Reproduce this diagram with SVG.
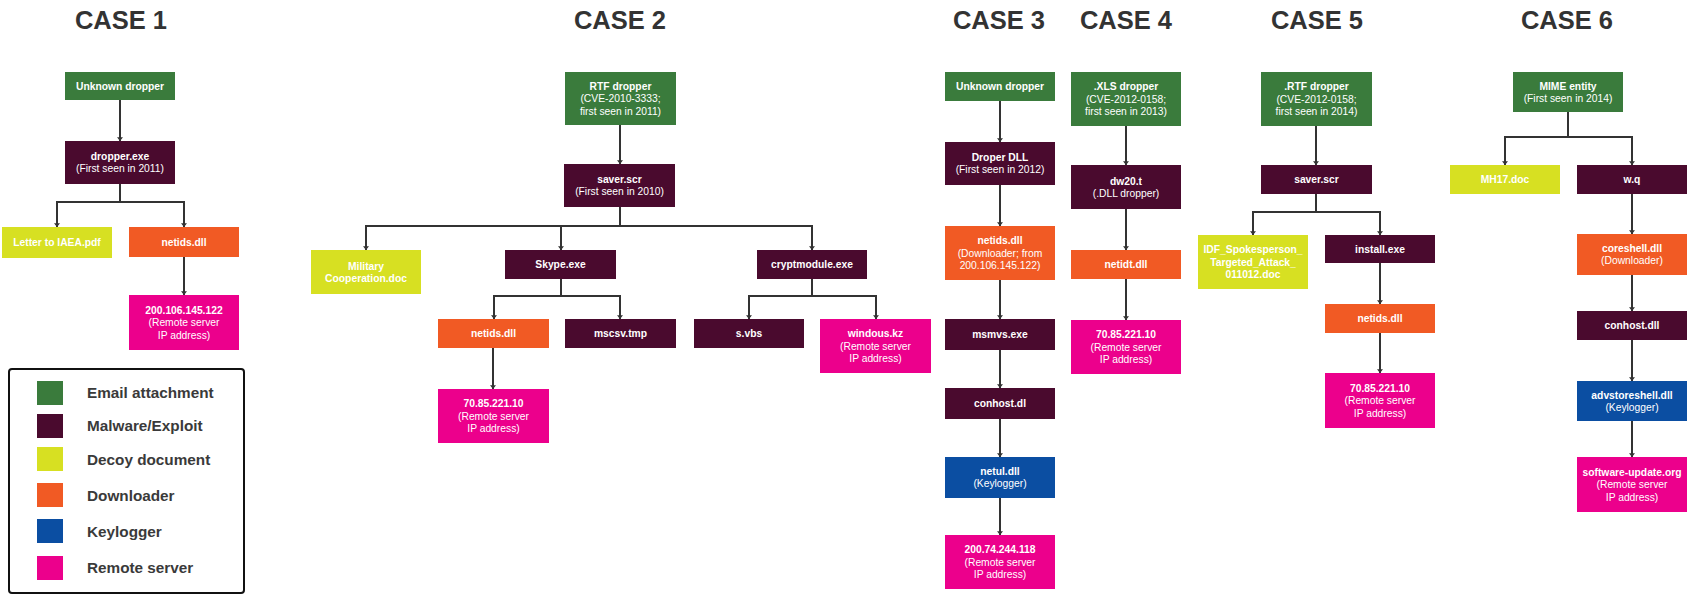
<svg xmlns="http://www.w3.org/2000/svg" width="1690" height="597" viewBox="0 0 1690 597">
<style>
  .bg{fill:#ffffff}
  .title{font-family:"Liberation Sans",Arial,sans-serif;font-size:25.5px;font-weight:bold;fill:#333333;text-anchor:middle}
  .nt{font-family:"Liberation Sans",Arial,sans-serif;font-size:10.3px;fill:#ffffff;text-anchor:middle}
  .b{font-weight:bold}
  .em{fill:#3a7b3c}
  .mw{fill:#4a0a2e}
  .dc{fill:#d7e022}
  .dl{fill:#f15a24}
  .kl{fill:#0b4ea2}
  .rs{fill:#ec008c}
  .conn path{fill:none;stroke:#333333;stroke-width:2;marker-end:url(#arr)}
  .lgbox{fill:#ffffff;stroke:#111111;stroke-width:2}
  .lgt{font-family:"Liberation Sans",Arial,sans-serif;font-size:15.3px;font-weight:bold;fill:#3a3a3a}
</style>
<defs>
  <marker id="arr" markerWidth="8" markerHeight="6" refX="5" refY="4" orient="auto" markerUnits="userSpaceOnUse" viewBox="0 0 5 8">
    <path d="M0,0 L5,4 L0,8 z" fill="#333333"/>
  </marker>
</defs>
<rect class="bg" x="0" y="0" width="1690" height="597"/>

<g id="titles">
  <text class="title" x="121" y="29">CASE 1</text>
  <text class="title" x="620" y="29">CASE 2</text>
  <text class="title" x="999" y="29">CASE 3</text>
  <text class="title" x="1126" y="29">CASE 4</text>
  <text class="title" x="1317" y="29">CASE 5</text>
  <text class="title" x="1567" y="29">CASE 6</text>
</g>

<g id="connectors" class="conn">
  <path d="M120,100 V141"/>
  <path d="M120,184 V202 H57 V227"/>
  <path d="M120,184 V202 H184 V227"/>
  <path d="M184,257 V295"/>

  <path d="M620,125 V164"/>
  <path d="M620,207 V226 H366 V250"/>
  <path d="M620,207 V226 H561 V250"/>
  <path d="M620,207 V226 H812 V250"/>
  <path d="M561,279 V296 H494 V319"/>
  <path d="M561,279 V296 H620 V319"/>
  <path d="M812,279 V296 H749 V319"/>
  <path d="M812,279 V296 H876 V319"/>
  <path d="M493,348 V389"/>

  <path d="M1000,101 V142"/>
  <path d="M1000,185 V226"/>
  <path d="M1000,280 V319"/>
  <path d="M1000,350 V388"/>
  <path d="M1000,419 V457"/>
  <path d="M1000,498 V535"/>

  <path d="M1126,126 V165"/>
  <path d="M1126,209 V250"/>
  <path d="M1126,279 V320"/>

  <path d="M1316,126 V165"/>
  <path d="M1316,194 V212 H1253 V235"/>
  <path d="M1316,194 V212 H1380 V235"/>
  <path d="M1380,263 V304"/>
  <path d="M1380,333 V373"/>

  <path d="M1568,112 V137 H1505 V165"/>
  <path d="M1568,112 V137 H1632 V165"/>
  <path d="M1632,194 V234"/>
  <path d="M1632,275 V311"/>
  <path d="M1632,340 V381"/>
  <path d="M1632,421 V457"/>
</g>

<!-- CASE 1 -->
<g id="c1_dropper"><rect class="em" x="65" y="72" width="110" height="28"/><text class="nt b" x="120" y="89.7">Unknown dropper</text></g>
<g id="c1_exe"><rect class="mw" x="65" y="141" width="110" height="43"/><text class="nt b" x="120" y="160.1">dropper.exe</text><text class="nt" x="120" y="172.4">(First seen in 2011)</text></g>
<g id="c1_letter"><rect class="dc" x="2" y="227" width="110" height="31"/><text class="nt b" x="57" y="246.2">Letter to IAEA.pdf</text></g>
<g id="c1_netids"><rect class="dl" x="129" y="227" width="110" height="30"/><text class="nt b" x="184" y="245.7">netids.dll</text></g>
<g id="c1_ip"><rect class="rs" x="129" y="295" width="110" height="55"/><text class="nt b" x="184" y="313.9">200.106.145.122</text><text class="nt" x="184" y="326.2">(Remote server</text><text class="nt" x="184" y="338.5">IP address)</text></g>

<!-- CASE 2 -->
<g id="c2_rtf"><rect class="em" x="565" y="72" width="111" height="53"/><text class="nt b" x="620.5" y="89.9">RTF dropper</text><text class="nt" x="620.5" y="102.2">(CVE-2010-3333;</text><text class="nt" x="620.5" y="114.5">first seen in 2011)</text></g>
<g id="c2_saver"><rect class="mw" x="564" y="164" width="111" height="43"/><text class="nt b" x="619.5" y="183.1">saver.scr</text><text class="nt" x="619.5" y="195.4">(First seen in 2010)</text></g>
<g id="c2_military"><rect class="dc" x="311" y="250" width="110" height="44"/><text class="nt b" x="366" y="269.6">Military</text><text class="nt b" x="366" y="281.9">Cooperation.doc</text></g>
<g id="c2_skype"><rect class="mw" x="505" y="250" width="111" height="29"/><text class="nt b" x="560.5" y="268.2">Skype.exe</text></g>
<g id="c2_crypt"><rect class="mw" x="757" y="250" width="110" height="29"/><text class="nt b" x="812" y="268.2">cryptmodule.exe</text></g>
<g id="c2_netids"><rect class="dl" x="438" y="319" width="111" height="29"/><text class="nt b" x="493.5" y="337.2">netids.dll</text></g>
<g id="c2_mscsv"><rect class="mw" x="565" y="319" width="111" height="29"/><text class="nt b" x="620.5" y="337.2">mscsv.tmp</text></g>
<g id="c2_svbs"><rect class="mw" x="694" y="319" width="110" height="29"/><text class="nt b" x="749" y="337.2">s.vbs</text></g>
<g id="c2_windous"><rect class="rs" x="820" y="319" width="111" height="54"/><text class="nt b" x="875.5" y="337.4">windous.kz</text><text class="nt" x="875.5" y="349.7">(Remote server</text><text class="nt" x="875.5" y="362">IP address)</text></g>
<g id="c2_ip"><rect class="rs" x="438" y="389" width="111" height="54"/><text class="nt b" x="493.5" y="407.4">70.85.221.10</text><text class="nt" x="493.5" y="419.7">(Remote server</text><text class="nt" x="493.5" y="432">IP address)</text></g>

<!-- CASE 3 -->
<g id="c3_dropper"><rect class="em" x="945" y="72" width="110" height="29"/><text class="nt b" x="1000" y="90.2">Unknown dropper</text></g>
<g id="c3_dll"><rect class="mw" x="945" y="142" width="110" height="43"/><text class="nt b" x="1000" y="161.1">Droper DLL</text><text class="nt" x="1000" y="173.4">(First seen in 2012)</text></g>
<g id="c3_netids"><rect class="dl" x="945" y="226" width="110" height="54"/><text class="nt b" x="1000" y="244.4">netids.dll</text><text class="nt" x="1000" y="256.7">(Downloader; from</text><text class="nt" x="1000" y="269">200.106.145.122)</text></g>
<g id="c3_msmvs"><rect class="mw" x="945" y="319" width="110" height="31"/><text class="nt b" x="1000" y="338.2">msmvs.exe</text></g>
<g id="c3_conhost"><rect class="mw" x="945" y="388" width="110" height="31"/><text class="nt b" x="1000" y="407.2">conhost.dl</text></g>
<g id="c3_netul"><rect class="kl" x="945" y="457" width="110" height="41"/><text class="nt b" x="1000" y="475.1">netul.dll</text><text class="nt" x="1000" y="487.4">(Keylogger)</text></g>
<g id="c3_ip"><rect class="rs" x="945" y="535" width="110" height="54"/><text class="nt b" x="1000" y="553.4">200.74.244.118</text><text class="nt" x="1000" y="565.7">(Remote server</text><text class="nt" x="1000" y="578">IP address)</text></g>

<!-- CASE 4 -->
<g id="c4_xls"><rect class="em" x="1071" y="72" width="110" height="54"/><text class="nt b" x="1126" y="90.4">.XLS dropper</text><text class="nt" x="1126" y="102.7">(CVE-2012-0158;</text><text class="nt" x="1126" y="115">first seen in 2013)</text></g>
<g id="c4_dw20"><rect class="mw" x="1071" y="165" width="110" height="44"/><text class="nt b" x="1126" y="184.6">dw20.t</text><text class="nt" x="1126" y="196.9">(.DLL dropper)</text></g>
<g id="c4_netidt"><rect class="dl" x="1071" y="250" width="110" height="29"/><text class="nt b" x="1126" y="268.2">netidt.dll</text></g>
<g id="c4_ip"><rect class="rs" x="1071" y="320" width="110" height="54"/><text class="nt b" x="1126" y="338.4">70.85.221.10</text><text class="nt" x="1126" y="350.7">(Remote server</text><text class="nt" x="1126" y="363">IP address)</text></g>

<!-- CASE 5 -->
<g id="c5_rtf"><rect class="em" x="1261" y="72" width="111" height="54"/><text class="nt b" x="1316.5" y="90.4">.RTF dropper</text><text class="nt" x="1316.5" y="102.7">(CVE-2012-0158;</text><text class="nt" x="1316.5" y="115">first seen in 2014)</text></g>
<g id="c5_saver"><rect class="mw" x="1261" y="165" width="111" height="29"/><text class="nt b" x="1316.5" y="183.2">saver.scr</text></g>
<g id="c5_idf"><rect class="dc" x="1198" y="235" width="110" height="54"/><text class="nt b" x="1253" y="253.4">IDF_Spokesperson_</text><text class="nt b" x="1253" y="265.7">Targeted_Attack_</text><text class="nt b" x="1253" y="278">011012.doc</text></g>
<g id="c5_install"><rect class="mw" x="1325" y="235" width="110" height="28"/><text class="nt b" x="1380" y="252.7">install.exe</text></g>
<g id="c5_netids"><rect class="dl" x="1325" y="304" width="110" height="29"/><text class="nt b" x="1380" y="322.2">netids.dll</text></g>
<g id="c5_ip"><rect class="rs" x="1325" y="373" width="110" height="55"/><text class="nt b" x="1380" y="391.9">70.85.221.10</text><text class="nt" x="1380" y="404.2">(Remote server</text><text class="nt" x="1380" y="416.5">IP address)</text></g>

<!-- CASE 6 -->
<g id="c6_mime"><rect class="em" x="1513" y="72" width="110" height="40"/><text class="nt b" x="1568" y="89.6">MIME entity</text><text class="nt" x="1568" y="101.9">(First seen in 2014)</text></g>
<g id="c6_mh17"><rect class="dc" x="1450" y="165" width="110" height="29"/><text class="nt b" x="1505" y="183.2">MH17.doc</text></g>
<g id="c6_wq"><rect class="mw" x="1577" y="165" width="110" height="29"/><text class="nt b" x="1632" y="183.2">w.q</text></g>
<g id="c6_coreshell"><rect class="dl" x="1577" y="234" width="110" height="41"/><text class="nt b" x="1632" y="252.1">coreshell.dll</text><text class="nt" x="1632" y="264.4">(Downloader)</text></g>
<g id="c6_conhost"><rect class="mw" x="1577" y="311" width="110" height="29"/><text class="nt b" x="1632" y="329.2">conhost.dll</text></g>
<g id="c6_advstore"><rect class="kl" x="1577" y="381" width="110" height="40"/><text class="nt b" x="1632" y="398.6">advstoreshell.dll</text><text class="nt" x="1632" y="410.9">(Keylogger)</text></g>
<g id="c6_sw"><rect class="rs" x="1577" y="457" width="110" height="55"/><text class="nt b" x="1632" y="475.9">software-update.org</text><text class="nt" x="1632" y="488.2">(Remote server</text><text class="nt" x="1632" y="500.5">IP address)</text></g>

<!-- LEGEND -->
<g id="legend">
  <rect class="lgbox" x="9" y="369" width="235" height="224" rx="3"/>
  <rect class="em" x="37" y="381" width="26" height="24"/>
  <text class="lgt" x="87" y="398">Email attachment</text>
  <rect class="mw" x="37" y="414" width="26" height="24"/>
  <text class="lgt" x="87" y="431">Malware/Exploit</text>
  <rect class="dc" x="37" y="447" width="26" height="24"/>
  <text class="lgt" x="87" y="465">Decoy document</text>
  <rect class="dl" x="37" y="483" width="26" height="24"/>
  <text class="lgt" x="87" y="501">Downloader</text>
  <rect class="kl" x="37" y="519" width="26" height="24"/>
  <text class="lgt" x="87" y="537">Keylogger</text>
  <rect class="rs" x="37" y="556" width="26" height="24"/>
  <text class="lgt" x="87" y="573">Remote server</text>
</g>
</svg>
